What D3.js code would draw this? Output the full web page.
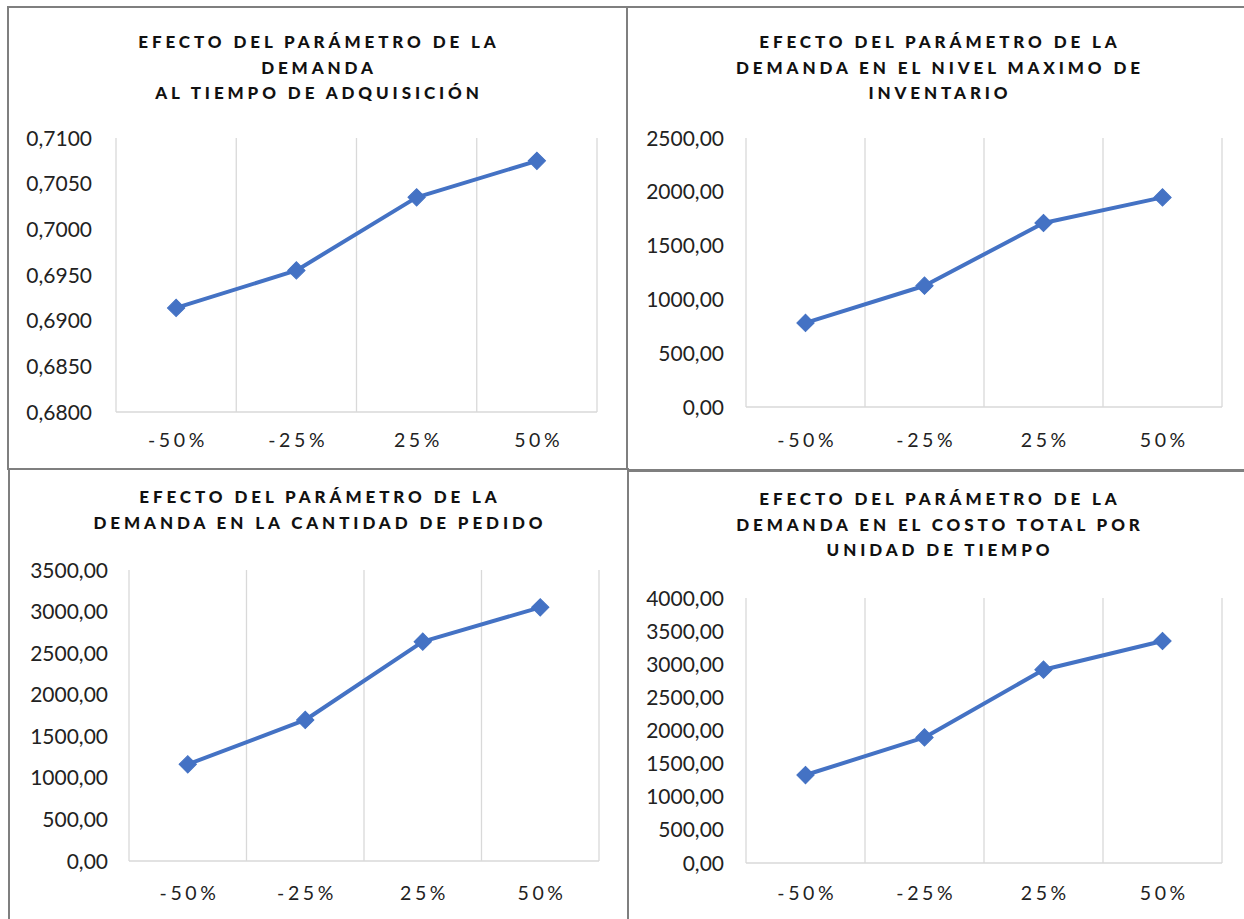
<!DOCTYPE html>
<html>
<head>
<meta charset="utf-8">
<script src="https://cdn.jsdelivr.net/npm/d3@7"></script>
<style>
  html, body { margin: 0; padding: 0; background: #ffffff; }
  svg { display: block; }
  text { font-family: Lato, "Open Sans", sans-serif; }
</style>
</head>
<body>
<svg id="chart" width="1244" height="919"></svg>
<script>
// Sensitivity of the demand parameter
const categories = ["-50%", "-25%", "25%", "50%"];

const tiempoAdquisicion = [0.6914, 0.6955, 0.7035, 0.7075];
const nivelMaximo       = [781, 1127, 1710, 1948];
const cantidadPedido    = [1163, 1696, 2638, 3051];
const costoTotal        = [1328, 1896, 2918, 3351];

const titleTiempo   = ["EFECTO DEL PARÁMETRO DE LA", "DEMANDA", "AL TIEMPO DE ADQUISICIÓN"];
const titleNivel    = ["EFECTO DEL PARÁMETRO DE LA", "DEMANDA EN EL NIVEL MAXIMO DE", "INVENTARIO"];
const titleCantidad = ["EFECTO DEL PARÁMETRO DE LA", "DEMANDA EN LA CANTIDAD DE PEDIDO"];
const titleCosto    = ["EFECTO DEL PARÁMETRO DE LA", "DEMANDA EN EL COSTO TOTAL POR", "UNIDAD DE TIEMPO"];

const ticksTiempo   = [0.6800, 0.6850, 0.6900, 0.6950, 0.7000, 0.7050, 0.7100];
const ticksNivel    = [0, 500, 1000, 1500, 2000, 2500];
const ticksCantidad = [0, 500, 1000, 1500, 2000, 2500, 3000, 3500];
const ticksCosto    = [0, 500, 1000, 1500, 2000, 2500, 3000, 3500, 4000];

// Spanish number formatting: decimal comma, no grouping
const locale = d3.formatLocale({ decimal: ",", thousands: ".", grouping: [3], currency: ["", ""] });
const fmt4 = locale.format(".4f");
const fmt2 = locale.format(".2f");

const svg = d3.select("#chart");
const LINE = "#4472C4";
const GRID = "#d9d9d9";
const BORDER = "#7f7f7f";

const panels = [
  { values: tiempoAdquisicion, ticks: ticksTiempo, format: fmt4, title: titleTiempo,
    frame: [8, 7, 619, 462], plot: [116, 138, 597, 412], titleX: 317, titleY: 48, labelX: 92, xLabelY: 447 },
  { values: nivelMaximo, ticks: ticksNivel, format: fmt2, title: titleNivel,
    frame: [627, 7, 640, 463], plot: [746, 138, 1222, 407], titleX: 938, titleY: 48, labelX: 724, xLabelY: 447 },
  { values: cantidadPedido, ticks: ticksCantidad, format: fmt2, title: titleCantidad,
    frame: [9, 469, 619, 470], plot: [129, 570, 599, 861], titleX: 318, titleY: 503, labelX: 108, xLabelY: 900 },
  { values: costoTotal, ticks: ticksCosto, format: fmt2, title: titleCosto,
    frame: [628, 471, 640, 470], plot: [746, 598, 1222, 863], titleX: 938, titleY: 505, labelX: 724, xLabelY: 900 }
];

panels.forEach(p => {
  const g = svg.append("g");
  const [x0, y0, x1, y1] = p.plot;

  // frame
  g.append("rect")
    .attr("x", p.frame[0]).attr("y", p.frame[1])
    .attr("width", p.frame[2]).attr("height", p.frame[3])
    .attr("fill", "#ffffff")
    .attr("stroke", BORDER).attr("stroke-width", 2);

  const x = d3.scaleBand().domain(categories).range([x0, x1]).padding(0);
  const y = d3.scaleLinear()
    .domain([p.ticks[0], p.ticks[p.ticks.length - 1]])
    .range([y1, y0]);

  // vertical gridlines at category boundaries
  const edges = categories.map(c => x(c)).concat([x1]);
  g.append("g").selectAll("line").data(edges).join("line")
    .attr("x1", d => d).attr("x2", d => d)
    .attr("y1", y0).attr("y2", y1)
    .attr("stroke", GRID).attr("stroke-width", 1.3);

  // baseline
  g.append("line")
    .attr("x1", x0).attr("x2", x1)
    .attr("y1", y1).attr("y2", y1)
    .attr("stroke", GRID).attr("stroke-width", 1.5);

  // y tick labels
  g.append("g").selectAll("text").data(p.ticks).join("text")
    .attr("x", p.labelX).attr("y", d => y(d))
    .attr("dy", "0.36em")
    .attr("text-anchor", "end")
    .attr("font-size", 21)
    .attr("fill", "#222222")
    .text(d => p.format(d));

  // x category labels
  g.append("g").selectAll("text").data(categories).join("text")
    .attr("x", d => x(d) + x.bandwidth() / 2 + 1.8)
    .attr("y", p.xLabelY)
    .attr("text-anchor", "middle")
    .attr("font-size", 19.5)
    .attr("letter-spacing", "3.6px")
    .attr("fill", "#222222")
    .text(d => d);

  // title
  g.append("g").selectAll("text").data(p.title).join("text")
    .attr("x", p.titleX + 2)
    .attr("y", (d, i) => p.titleY + i * 25.7)
    .attr("text-anchor", "middle")
    .attr("font-size", 17)
    .attr("font-weight", 900)
    .attr("letter-spacing", "3.9px")
    .attr("fill", "#111111")
    .text(d => d);

  // series line
  const pts = categories.map((c, i) => [x(c) + x.bandwidth() / 2, y(p.values[i])]);
  g.append("path")
    .datum(pts)
    .attr("d", d3.line())
    .attr("fill", "none")
    .attr("stroke", LINE)
    .attr("stroke-width", 4)
    .attr("stroke-linejoin", "round");

  // diamond markers
  const diamond = d3.symbol(d3.symbolSquare, 150);
  g.append("g").selectAll("path").data(pts).join("path")
    .attr("d", diamond)
    .attr("transform", d => `translate(${d[0]},${d[1]}) rotate(45)`)
    .attr("fill", LINE)
    .attr("stroke", LINE)
    .attr("stroke-width", 1);
});
</script>
</body>
</html>
